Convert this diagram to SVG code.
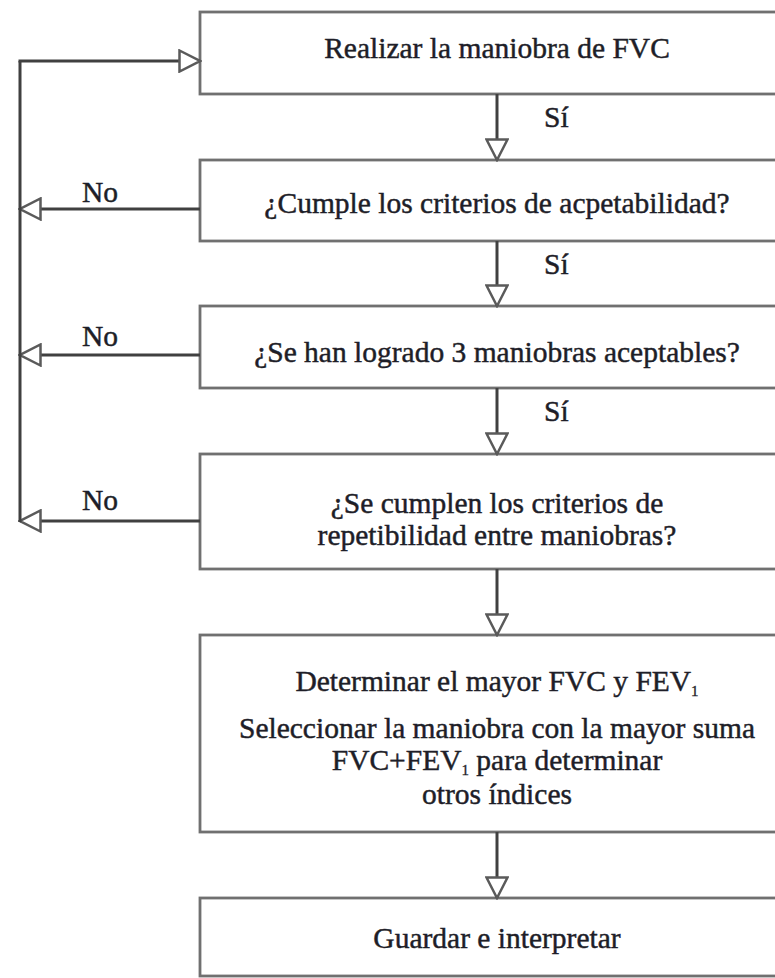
<svg xmlns="http://www.w3.org/2000/svg" width="775" height="978" viewBox="0 0 775 978">
<style>
.box{fill:#ffffff;stroke:#707070;stroke-width:2.8}
.t{font-family:"Liberation Serif","Times New Roman",serif;font-size:29.5px;fill:#1e1e28;stroke:#1e1e28;stroke-width:0.45;text-anchor:middle}
.lbl{font-family:"Liberation Serif","Times New Roman",serif;font-size:29.5px;fill:#1e1e28;stroke:#1e1e28;stroke-width:0.45}
.sub{font-size:15px;stroke-width:0.3}
.c{fill:none;stroke:#404040;stroke-width:3;marker-end:url(#ah)}
.plain{fill:none;stroke:#404040;stroke-width:3}
</style>
<defs>
<marker id="ah" markerUnits="userSpaceOnUse" viewBox="0 0 24 24" markerWidth="24" markerHeight="24" refX="22" refY="12" orient="auto">
<path d="M1.5,1.5 L22,12 L1.5,22.5 Z" fill="#ffffff" stroke="#5a5a5a" stroke-width="2.5" stroke-linejoin="miter"/>
</marker>
</defs>
<rect width="775" height="978" fill="#ffffff"/>
<g id="n1">
<rect class="box" x="200" y="12" width="620" height="82"/>
<text class="t" x="497" y="58">Realizar la maniobra de FVC</text>
</g>
<g id="n2">
<rect class="box" x="200" y="160" width="620" height="81"/>
<text class="t" x="497" y="213">¿Cumple los criterios de acpetabilidad?</text>
</g>
<g id="n3">
<rect class="box" x="200" y="306" width="620" height="82"/>
<text class="t" x="497" y="362">¿Se han logrado 3 maniobras aceptables?</text>
</g>
<g id="n4">
<rect class="box" x="200" y="454" width="620" height="115"/>
<text class="t" x="497" y="513">¿Se cumplen los criterios de</text>
<text class="t" x="497" y="545">repetibilidad entre maniobras?</text>
</g>
<g id="n5">
<rect class="box" x="200" y="635" width="620" height="197"/>
<text class="t" x="497" y="691">Determinar el mayor FVC y FEV<tspan class="sub" dy="5">1</tspan></text>
<text class="t" x="497" y="738">Seleccionar la maniobra con la mayor suma</text>
<text class="t" x="497" y="770">FVC+FEV<tspan class="sub" dy="5">1</tspan><tspan dy="-5"> para determinar</tspan></text>
<text class="t" x="497" y="804">otros índices</text>
</g>
<g id="n6">
<rect class="box" x="200" y="898" width="620" height="78"/>
<text class="t" x="497" y="948">Guardar e interpretar</text>
</g>
<g id="connectors">
<path class="c" d="M497,94 V160"/>
<path class="c" d="M497,241 V306"/>
<path class="c" d="M497,388 V454"/>
<path class="c" d="M497,569 V635"/>
<path class="c" d="M497,832 V898"/>
<path class="c" d="M200,209 H20"/>
<path class="c" d="M200,355 H20"/>
<path class="c" d="M200,521 H20"/>
<path class="plain" d="M20,522 V61"/>
<path class="c" d="M18.5,61 H200"/>
<text class="lbl" x="544" y="127">Sí</text>
<text class="lbl" x="544" y="274">Sí</text>
<text class="lbl" x="544" y="421">Sí</text>
<text class="lbl" x="82" y="202">No</text>
<text class="lbl" x="82" y="346">No</text>
<text class="lbl" x="82" y="510">No</text>
</g>
</svg>
